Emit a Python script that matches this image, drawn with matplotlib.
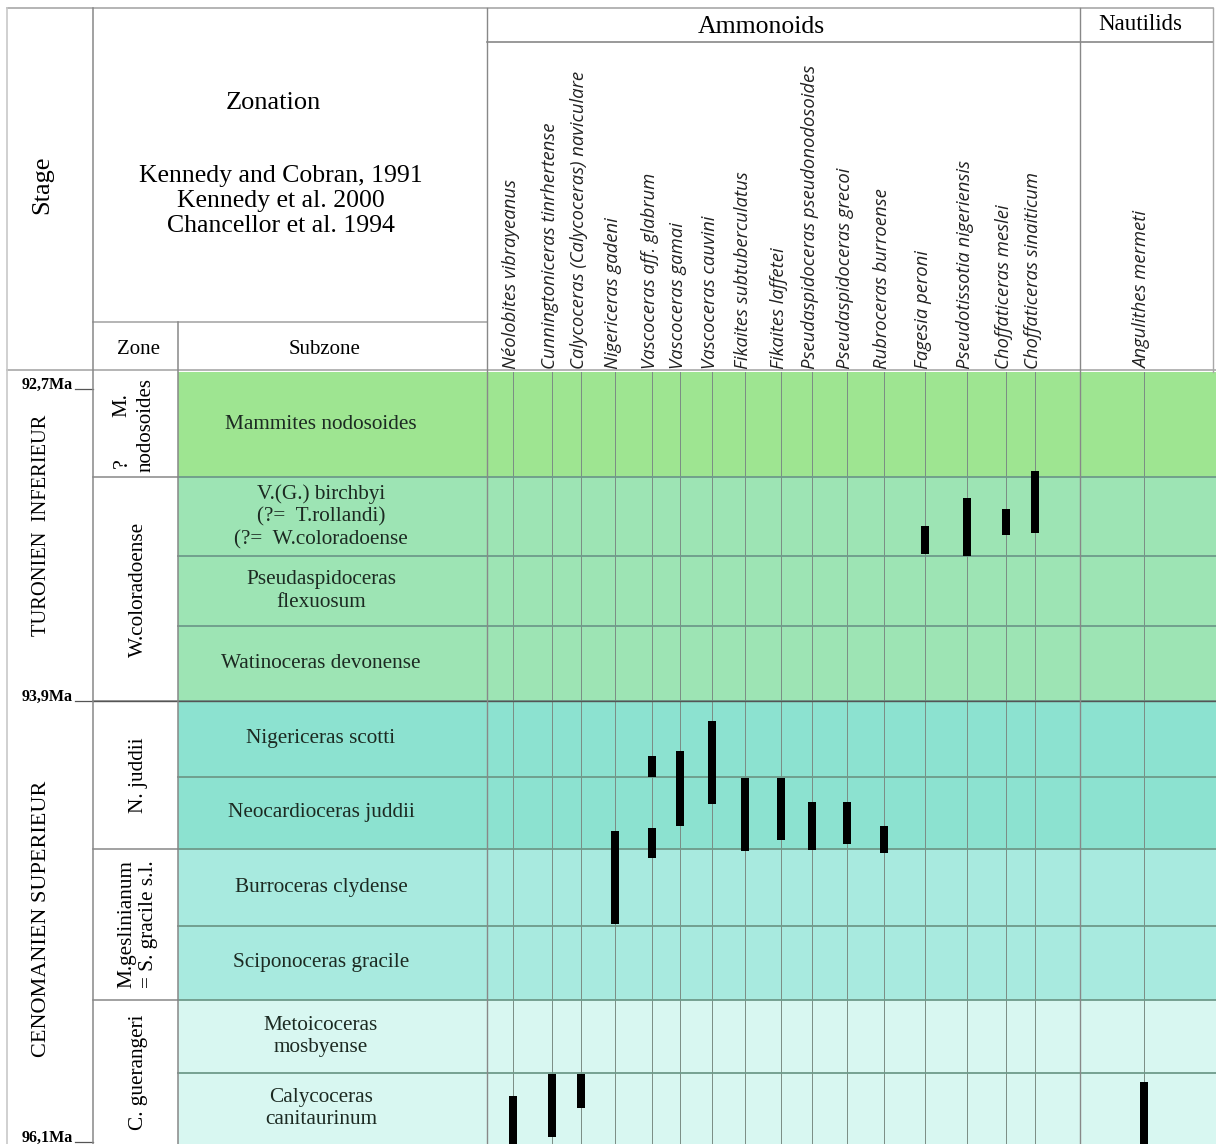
import matplotlib.pyplot as plt

# --- data (vertical unit = chart depth, top of Turonian = 372) ---
stages = ["TURONIEN  INFERIEUR", "CENOMANIEN SUPERIEUR"]
stage_bounds = [372, 701, 1144]
ages = ["92,7Ma", "93,9Ma", "96,1Ma"]

zones = ["M.\nnodosoides", "W.coloradoense", "N. juddii",
         "M.geslinianum\n= S. gracile s.l.", "C. guerangeri"]
zone_bounds = [372, 477, 701, 849, 1000, 1144]
zone_colors = ["#9ee591", "#9de4b4", "#8ce2d0", "#a8eadf", "#d8f7f1"]

subzones = ["Mammites nodosoides",
            "V.(G.) birchbyi\n(?=  T.rollandi)\n(?=  W.coloradoense",
            "Pseudaspidoceras\nflexuosum",
            "Watinoceras devonense",
            "Nigericeras scotti",
            "Neocardioceras juddii",
            "Burroceras clydense",
            "Sciponoceras gracile",
            "Metoicoceras\nmosbyense",
            "Calycoceras\ncanitaurinum"]
subzone_bounds = [372, 477, 556, 626, 701, 777, 849, 926, 1000, 1073, 1144]
subzone_zone = [0, 1, 1, 1, 2, 2, 3, 3, 4, 4]

ammonoids = ["Néolobites vibrayeanus", "Cunningtoniceras tinrhertense",
             "Calycoceras (Calycoceras) naviculare", "Nigericeras gadeni",
             "Vascoceras aff. glabrum", "Vascoceras gamai", "Vascoceras cauvini",
             "Fikaites subtuberculatus", "Fikaites laffetei",
             "Pseudaspidoceras pseudonodosoides", "Pseudaspidoceras grecoi",
             "Rubroceras burroense", "Fagesia peroni", "Pseudotissotia nigeriensis",
             "Choffaticeras meslei", "Choffaticeras sinaiticum"]
nautilids = ["Angulithes mermeti"]

# ranges (top, bottom) for each taxon
ranges = [
    [(1096, 1144)],
    [(1074, 1137)],
    [(1074, 1108)],
    [(831, 924)],
    [(756, 777), (828, 858)],
    [(751, 826)],
    [(721, 804)],
    [(778, 851)],
    [(778, 840)],
    [(802, 850)],
    [(802, 844)],
    [(826, 853)],
    [(526, 554)],
    [(498, 556)],
    [(509, 535)],
    [(471, 533)],
    [(1082, 1144)],
]

# --- layout ---
W, H = 1216, 1144
col_x = [513, 552, 581, 615, 652, 680, 712, 745, 781, 812, 847, 884,
         925, 967, 1006, 1035, 1144]
x_stage, x_zone, x_sub, x_amm, x_naut, x_right = 7, 93, 178, 487, 1080, 1213
top, y_group, y_zonehdr, y_data = 8, 42, 322, 372

serif = "Liberation Serif"
frame = "#a8a8a8"
rowline = "#6e9a8a"

fig = plt.figure(figsize=(W / 100, H / 100), dpi=100)
ax = fig.add_axes([0, 0, 1, 1])
ax.set_xlim(0, W)
ax.set_ylim(H, 0)
ax.axis("off")

# coloured subzone rows
for i, name in enumerate(subzones):
    y0, y1 = subzone_bounds[i], subzone_bounds[i + 1]
    ax.barh((y0 + y1) / 2, W - x_sub, height=y1 - y0, left=x_sub,
            color=zone_colors[subzone_zone[i]], edgecolor="none", zorder=0)
    ax.text(321, (y0 + y1) / 2, name, ha="center", va="center", fontsize=15.3,
            family=serif, color="#1c2a22", linespacing=1.25)
    if 0 < i:
        ax.plot([x_sub, W], [y0, y0], color=rowline, lw=1.3, zorder=2)

# zone boundaries & labels
for i, name in enumerate(zones):
    y0, y1 = zone_bounds[i], zone_bounds[i + 1]
    if i > 0:
        ax.plot([x_zone, x_sub], [y0, y0], color="#888888", lw=1.1, zorder=2)
    if i == 0:
        ax.text(122, 405, "M.", rotation=90, ha="center", va="center",
                fontsize=15, family=serif)
        ax.text(146, 425, "nodosoides", rotation=90, ha="center", va="center",
                fontsize=15, family=serif)
        ax.text(122, 463, "?", rotation=90, ha="center", va="center",
                fontsize=16, family=serif)
    else:
        ax.text(138, (y0 + y1) / 2, name, rotation=90, ha="center", va="center",
                fontsize=15.3, family=serif, linespacing=1.2)

# stages
stage_sizes = [14.8, 16]
for i, name in enumerate(stages):
    y0, y1 = stage_bounds[i], stage_bounds[i + 1]
    ax.text(42, (y0 + y1) / 2 + (-11 if i == 0 else -4), name, rotation=90,
            ha="center", va="center", fontsize=stage_sizes[i], family=serif)
for i, lab in enumerate(ages):
    yb = stage_bounds[i]
    yl = yb + 17 if i == 0 else (yb if i == 1 else yb - 2)
    ax.text(22, yl, lab, ha="left", va="baseline", fontsize=11.5, family=serif,
            weight="bold")
    ax.plot([75, x_zone], [yl, yl], color="#555555", lw=0.9)
ax.plot([x_zone, W], [stage_bounds[1], stage_bounds[1]], color="#555555", lw=1.0, zorder=2)

# species vertical lines, labels and ranges
taxa = ammonoids + nautilids
for i, name in enumerate(taxa):
    x = col_x[i]
    ax.plot([x, x], [y_data, H], color="#7b8c84", lw=0.7, zorder=1)
    ax.text(x - 2, y_data - 3, name, rotation=90, ha="center", va="bottom",
            fontsize=13.3, family="Open Sans", style="italic", color="#222222")
    for (a, b) in ranges[i]:
        ax.bar(x, b - a, bottom=a, width=8, color="black", zorder=3)

# header frame
ax.plot([x_stage, x_right], [top, top], color=frame, lw=1.2)
ax.plot([x_amm, x_right], [y_group, y_group], color="#888888", lw=1.2)
ax.plot([x_zone, x_amm], [y_zonehdr, y_zonehdr], color=frame, lw=1.2)
ax.plot([x_stage, W], [y_data - 2, y_data - 2], color=frame, lw=1.2)
ax.plot([x_stage, x_stage], [top, H], color="#c8c8c8", lw=1.2)
ax.plot([x_zone, x_zone], [top, H], color="#888888", lw=1.1)
ax.plot([x_sub, x_sub], [y_zonehdr, H], color="#888888", lw=1.1)
ax.plot([x_amm, x_amm], [top, H], color="#888888", lw=1.0, zorder=2)
ax.plot([x_naut, x_naut], [top, H], color="#888888", lw=1.0, zorder=2)
ax.plot([x_right, x_right], [top, y_data], color=frame, lw=1.0)

ax.text(42, 185, "Stage", rotation=90, ha="center", va="center", fontsize=19, family=serif)
ax.text(273, 103, "Zonation", ha="center", va="center", fontsize=19, family=serif)
ax.text(281, 201, "Kennedy and Cobran, 1991\nKennedy et al. 2000\nChancellor et al. 1994",
        ha="center", va="center", fontsize=18.5, family=serif, linespacing=1.17)
ax.text(138, 349, "Zone", ha="center", va="center", fontsize=15, family=serif)
ax.text(325, 349, "Subzone", ha="center", va="center", fontsize=15, family=serif)
ax.text(761, 27, "Ammonoids", ha="center", va="center", fontsize=18.5, family=serif)
ax.text(1140, 24, "Nautilids", ha="center", va="center", fontsize=16.5, family=serif)

fig.savefig("out.png", dpi=100)
